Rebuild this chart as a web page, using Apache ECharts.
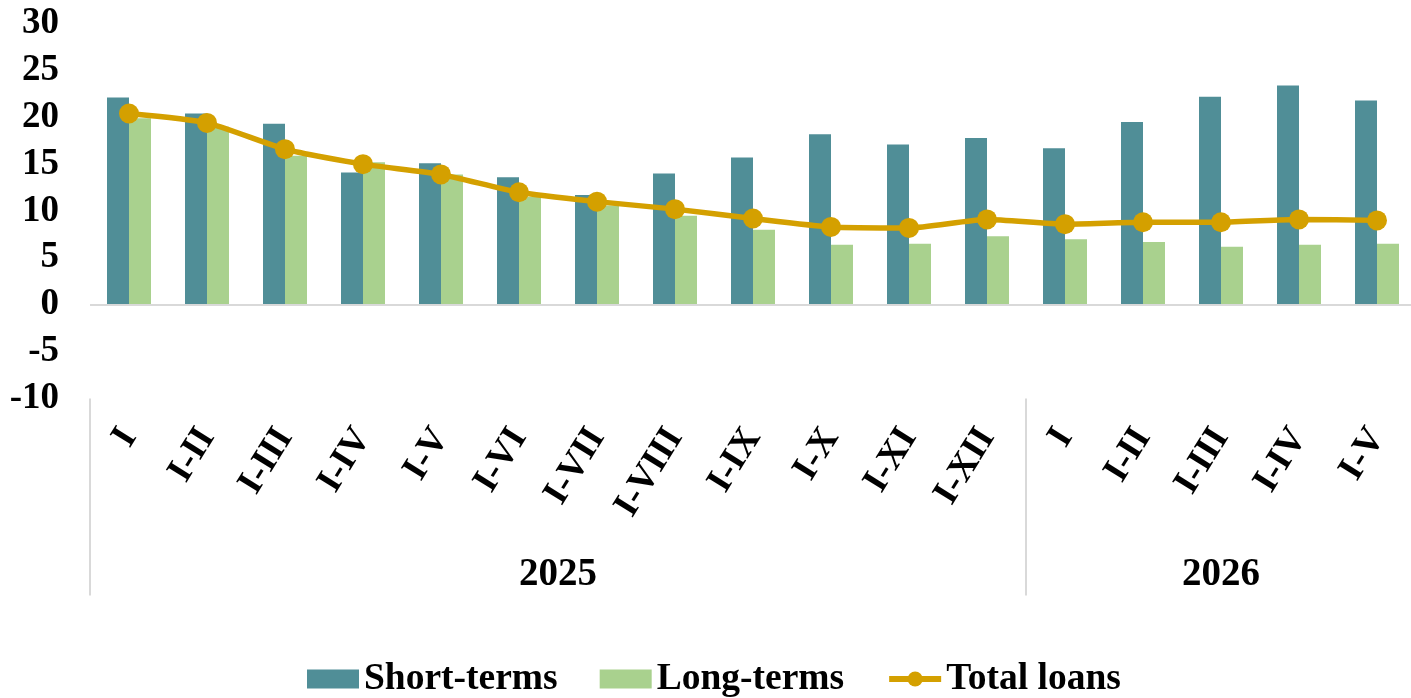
<!DOCTYPE html>
<html>
<head>
<meta charset="utf-8">
<script src="https://cdn.jsdelivr.net/npm/echarts@6/dist/echarts.min.js"></script>
<style>
html,body{margin:0;padding:0;background:#fff;overflow:hidden;}
#chart{width:1420px;height:698px;}
</style>
</head>
<body>
<div id="chart"></div>
<script>
const categories = ['I','I-II','I-III','I-IV','I-V','I-VI','I-VII','I-VIII','I-IX','I-X','I-XI','I-XII','I','I-II','I-III','I-IV','I-V'];
const years = ['2025','2026'];
const yearSpans = [12, 5];
const shortTerms = [22.1, 20.4, 19.3, 14.1, 15.1, 13.6, 11.7, 14.0, 15.7, 18.2, 17.1, 17.8, 16.7, 19.5, 22.2, 23.4, 21.8];
const longTerms  = [19.9, 19.0, 15.9, 15.2, 13.9, 11.5, 10.6, 9.5, 8.0, 6.4, 6.5, 7.3, 7.0, 6.7, 6.2, 6.4, 6.5];
const totalLoans = [20.4, 19.4, 16.6, 15.0, 13.9, 12.0, 11.0, 10.2, 9.2, 8.3, 8.2, 9.1, 8.6, 8.8, 8.8, 9.1, 9.0];
const yTicks = { min: -10, max: 30, interval: 5 };

// group boundaries and centres for the year level of the axis
const bounds = [0];
yearSpans.forEach(s => bounds.push(bounds[bounds.length - 1] + s));
const centres = yearSpans.map((s, i) => bounds[i] + s / 2);

const FONT = '"Liberation Serif", "Times New Roman", serif';
const GOLD = '#D4A000';
const chart = echarts.init(document.getElementById('chart'), null, { renderer: 'canvas' });
chart.setOption({
  animation: false,
  textStyle: { fontFamily: FONT, fontWeight: 'bold', color: '#000' },
  grid: { left: 90, top: 23.5, width: 1326, height: 375, containLabel: false },
  legend: {
    top: 660, left: 307, padding: 0,
    itemWidth: 52, itemHeight: 19, itemGap: 42,
    textStyle: { fontFamily: FONT, fontWeight: 'bold', fontSize: 37.5, color: '#000' },
    data: [
      { name: 'Short-terms', icon: 'rect' },
      { name: 'Long-terms', icon: 'rect' },
      { name: 'Total loans', lineStyle: { width: 6, color: GOLD }, itemStyle: { color: GOLD } }
    ]
  },
  xAxis: [
    {
      type: 'category', data: categories, position: 'bottom',
      axisLine: { show: false, onZero: false },
      axisTick: { show: false },
      axisLabel: {
        interval: 0, rotate: 58, margin: 33,
        fontFamily: FONT, fontWeight: 'bold', fontSize: 37, color: '#000'
      }
    },
    {
      type: 'value', min: 0, max: categories.length, position: 'bottom',
      axisLine: { show: false, onZero: false },
      splitLine: { show: false },
      axisTick: { show: true, customValues: bounds, length: 197, inside: false,
        lineStyle: { color: '#d9d9d9', width: 2 } },
      axisLabel: {
        customValues: centres, margin: 157,
        formatter: (v) => years[centres.indexOf(v)] || '',
        fontFamily: FONT, fontWeight: 'bold', fontSize: 39, color: '#000'
      }
    }
  ],
  yAxis: {
    type: 'value', min: yTicks.min, max: yTicks.max, interval: yTicks.interval,
    axisLine: { show: false }, axisTick: { show: false },
    splitLine: { show: false },
    axisLabel: { margin: 31, fontFamily: FONT, fontWeight: 'bold', fontSize: 37, color: '#000' }
  },
  series: [
    {
      name: 'Short-terms', type: 'bar', data: shortTerms, xAxisIndex: 0,
      barWidth: 22, barGap: '0%',
      itemStyle: { color: '#508E97' },
      markLine: {
        silent: true, symbol: 'none', label: { show: false },
        lineStyle: { color: '#d9d9d9', width: 2, type: 'solid' },
        data: [{ yAxis: 0 }]
      }
    },
    {
      name: 'Long-terms', type: 'bar', data: longTerms, xAxisIndex: 0,
      barWidth: 22, barGap: '0%',
      itemStyle: { color: '#A9D18E' }
    },
    {
      name: 'Total loans', type: 'line', data: totalLoans, xAxisIndex: 0,
      smooth: 0.2, symbol: 'circle', symbolSize: 20,
      lineStyle: { color: GOLD, width: 5.5 },
      itemStyle: { color: GOLD },
      z: 5
    }
  ]
});
</script>
</body>
</html>
